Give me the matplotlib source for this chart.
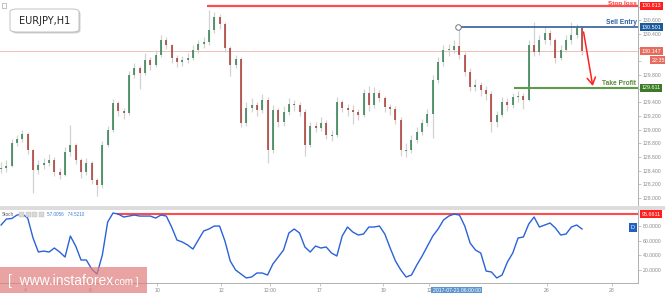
import matplotlib.pyplot as plt
from matplotlib.patches import Rectangle, FancyBboxPatch

W, H = 665, 293

first_open = 128.42
closes = [128.44, 128.47, 128.80, 128.86, 128.94, 128.70, 128.41, 128.48, 128.51, 128.56,
          128.38, 128.34, 128.67, 128.78, 128.56, 128.38, 128.51, 128.26, 128.19, 128.78,
          129.00, 129.39, 129.27, 129.25, 129.80, 129.90, 129.83, 130.02, 129.95, 130.09,
          130.31, 130.24, 130.05, 129.99, 130.02, 130.05, 130.17, 130.26, 130.28, 130.46,
          130.65, 130.55, 130.20, 129.95, 130.04, 129.10, 129.32, 129.36, 129.29, 129.44,
          128.70, 129.29, 129.11, 129.26, 129.38, 129.36, 129.26, 128.78, 129.05, 129.03,
          129.10, 128.92, 128.92, 129.41, 129.32, 129.29, 129.26, 129.22, 129.54, 129.36,
          129.54, 129.46, 129.33, 129.30, 129.14, 128.70, 128.70, 128.85, 128.97, 129.10,
          129.23, 129.73, 129.99, 130.17, 130.17, 130.23, 130.09, 129.85, 129.63, 129.65,
          129.58, 129.52, 129.11, 129.22, 129.41, 129.36, 129.48, 129.49, 129.44, 130.24,
          130.14, 130.31, 130.42, 130.31, 130.05, 130.17, 130.31, 130.39, 130.49, 130.15]
highs = [128.52, 128.55, 128.86, 128.92, 129.00, 128.96, 128.72, 128.55, 128.58, 128.64,
         128.60, 128.44, 128.74, 129.07, 128.80, 128.58, 128.58, 128.54, 128.30, 128.84,
         129.06, 129.45, 129.42, 129.32, 129.86, 129.98, 129.94, 130.13, 130.06, 130.16,
         130.38, 130.36, 130.26, 130.10, 130.08, 130.12, 130.24, 130.32, 130.36, 130.75,
         130.72, 130.70, 130.58, 130.22, 130.10, 130.06, 129.40, 129.46, 129.40, 129.52,
         129.48, 129.36, 129.32, 129.34, 129.46, 129.44, 129.40, 129.30, 129.12, 129.12,
         129.18, 129.14, 129.00, 129.48, 129.44, 129.38, 129.36, 129.30, 129.60, 129.64,
         129.62, 129.58, 129.50, 129.38, 129.34, 129.18, 128.80, 128.92, 129.04, 129.16,
         129.30, 129.80, 130.06, 130.24, 130.26, 130.32, 130.50, 130.14, 129.90, 129.74,
         129.70, 129.64, 129.56, 129.28, 129.48, 129.46, 129.54, 129.56, 129.54, 130.32,
         130.58, 130.38, 130.50, 130.46, 130.34, 130.24, 130.38, 130.58, 130.55, 130.52]
lows = [128.36, 128.38, 128.45, 128.76, 128.82, 128.64, 128.07, 128.35, 128.42, 128.47,
        128.32, 128.28, 128.32, 128.62, 128.50, 128.30, 128.34, 128.20, 128.03, 128.15,
        128.74, 128.96, 129.20, 129.16, 129.22, 129.76, 129.60, 129.80, 129.88, 129.92,
        130.06, 130.18, 129.98, 129.92, 129.94, 129.98, 130.02, 130.12, 130.20, 130.24,
        130.42, 130.48, 130.14, 129.78, 129.90, 129.04, 129.06, 129.26, 129.20, 129.24,
        128.51, 128.66, 129.04, 129.06, 129.22, 129.28, 129.20, 128.62, 128.74, 128.96,
        128.98, 128.86, 128.84, 128.90, 129.26, 129.20, 129.08, 129.14, 129.18, 129.28,
        129.32, 129.40, 129.26, 129.22, 129.08, 128.62, 128.60, 128.66, 128.80, 128.92,
        129.06, 128.88, 129.68, 129.94, 130.08, 130.12, 130.04, 129.78, 129.56, 129.56,
        129.50, 129.44, 128.96, 129.04, 129.18, 129.28, 129.32, 129.40, 129.30, 129.42,
        130.08, 130.10, 130.26, 130.24, 129.98, 130.02, 130.14, 130.26, 130.34, 130.10]

stoch = [81.1, 89.2, 89.9, 94.6, 95.9, 90.5, 63.5, 44.6, 45.9, 44.6,
         50.0, 44.6, 37.8, 66.2, 52.7, 33.8, 33.8, 21.6, 14.9, 40.5,
         85.1, 97.3, 95.9, 91.9, 93.2, 94.6, 93.2, 93.2, 93.2, 90.5,
         94.6, 93.2, 78.4, 60.8, 58.1, 54.1, 48.6, 60.8, 73.0, 75.7,
         79.7, 79.7, 59.5, 32.4, 20.3, 14.9, 9.5, 10.8, 16.2, 16.2,
         13.5, 28.4, 37.8, 47.3, 70.3, 75.7, 70.3, 51.4, 44.6, 52.7,
         50.0, 51.4, 43.2, 39.2, 66.2, 78.4, 71.6, 67.6, 68.9, 78.4,
         78.4, 79.7, 68.9, 50.0, 32.4, 20.3, 10.8, 13.5, 27.0, 39.2,
         52.7, 66.2, 75.7, 87.8, 93.2, 95.9, 94.6, 79.7, 56.8, 47.3,
         43.2, 18.9, 17.6, 9.5, 13.5, 31.1, 43.2, 63.5, 64.9, 82.4,
         91.9, 78.4, 81.1, 83.8, 77.0, 67.6, 68.9, 78.4, 81.1, 75.7]

day_ticks = [4.5, 16.7, 29.3, 41.3, 50.5, 59.8, 71.7, 80.3, 102.4, 114.6]
day_labels = ['4', '6', '10', '12', '12:00', '17', '19', '12', '26', '28']
# labels hidden behind the level boxes in the original are left blank
price_ticks = [128.0, 128.2, 128.4, 128.6, 128.8, 129.0, 129.2, 129.4,
               129.6, 129.8, 130.0, 130.2, 130.4, 130.6, 130.8]
price_labels = ['128.000', '128.200', '128.400', '128.600', '128.800', '129.000',
                '129.200', '129.400', '', '129.800', '', '', '130.400', '130.600', '']
stoch_ticks = [20, 40, 60, 80]

stop_loss = 130.813
sell_entry = 130.501
take_profit = 129.611
last_price = 130.147
stoch_level = 95.6611


def main():
    fig = plt.figure(figsize=(W / 100, H / 100), dpi=100)
    font = 'Liberation Sans'
    xmin, xmax = -0.2, 119.5

    # price panel
    ax = fig.add_axes([0, 1 - 206 / H, 638 / W, 206 / H])
    ax.set_xlim(xmin, xmax)
    ax.set_ylim(127.883, 130.899)
    for s in ['top', 'left', 'bottom']:
        ax.spines[s].set_visible(False)
    ax.spines['right'].set_color('#b0b0b0')
    ax.spines['right'].set_linewidth(0.7)
    ax.set_xticks([])
    ax.yaxis.tick_right()
    ax.set_yticks(price_ticks)
    ax.set_yticklabels(price_labels, fontsize=3.7, color='#8a8a8a', family=font)
    ax.tick_params(axis='y', length=2, width=0.5, color='#b0b0b0', pad=1.5)

    ax.axhline(last_price, color='#f0b4ac', lw=0.6, zorder=1)

    opens = [first_open] + closes[:-1]
    for i in range(len(closes)):
        o, c = opens[i], closes[i]
        ax.vlines(i, lows[i], highs[i], color='#d2d2d2', lw=0.9, zorder=2)
        col = '#2e7b4c' if c >= o else '#a8352b'
        top, bot = max(o, c), min(o, c)
        if top - bot < 0.01:
            top += 0.005
            bot -= 0.005
        ax.vlines(i, bot, top, color=col, lw=1.1, zorder=3)

    ax.hlines(stop_loss, 38.6, xmax, color='#ff4b4b', lw=1.6, zorder=4)
    ax.hlines(sell_entry, 85.7, xmax, color='#1f4f8f', lw=1.1, zorder=4)
    ax.plot([85.7], [sell_entry], 'o', ms=4, mfc='white', mec='#777777', mew=0.7, zorder=5)
    ax.hlines(take_profit, 96.2, xmax, color='#5f9a4a', lw=1.5, zorder=4)
    ax.annotate('', xy=(111.1, 129.60), xytext=(109.2, 130.47),
                arrowprops=dict(arrowstyle='->,head_length=0.5,head_width=0.3',
                                color='#ff2020', lw=1.1), zorder=6)

    ax.text(119.2, stop_loss + 0.004, 'Stop loss', color='#ff3a3a', fontsize=4.6,
            fontweight='bold', family=font, ha='right', va='bottom')
    ax.text(119.2, sell_entry + 0.02, 'Sell Entry', color='#2a5ea8', fontsize=4.8,
            fontweight='bold', family=font, ha='right', va='bottom')
    ax.text(119.2, take_profit + 0.02, 'Take Profit', color='#5d8a3c', fontsize=4.8,
            fontweight='bold', family=font, ha='right', va='bottom')

    tr = ax.get_yaxis_transform()
    boxes = [(stop_loss, '130.813', '#ff1e1e'), (sell_entry, '130.501', '#1c5a9c'),
             (last_price, '130.147', '#e46b5e'), (take_profit, '129.611', '#3b7a26')]
    for y, txt, col in boxes:
        ax.text(1.0205, y, txt, transform=tr, fontsize=3.9, color='white', family=font,
                ha='center', va='center', clip_on=False, zorder=10,
                bbox=dict(boxstyle='square,pad=0.3', fc=col, ec='none'))
    ax.text(1.0325, last_price - 0.13, '22:35', transform=tr, fontsize=3.9, color='white',
            family=font, ha='center', va='center', clip_on=False, zorder=10,
            bbox=dict(boxstyle='square,pad=0.3', fc='#e46b5e', ec='none'))

    # separator band
    fig.patches.append(Rectangle((0, 1 - 210 / H), 1, 4 / H, transform=fig.transFigure,
                                 fc='#dcdcdc', ec='none'))

    # stochastic panel
    ax2 = fig.add_axes([0, 1 - 283 / H, 638 / W, 73 / H])
    ax2.set_xlim(xmin, xmax)
    ax2.set_ylim(2.7, 101.4)
    for s in ['top', 'left']:
        ax2.spines[s].set_visible(False)
    for s in ['right', 'bottom']:
        ax2.spines[s].set_color('#b0b0b0')
        ax2.spines[s].set_linewidth(0.7)
    ax2.yaxis.tick_right()
    ax2.set_yticks(stoch_ticks)
    ax2.set_yticklabels(['%.4f' % t for t in stoch_ticks], fontsize=3.7,
                        color='#8a8a8a', family=font)
    ax2.set_xticks(day_ticks)
    ax2.set_xticklabels(day_labels, fontsize=3.7, color='#8a8a8a', family=font)
    ax2.tick_params(length=2, width=0.5, color='#b0b0b0', pad=1.5)

    ax2.hlines(stoch_level, 21.8, xmax, color='#ff4b4b', lw=1.5, zorder=2)
    ax2.plot(range(len(stoch)), stoch, color='#2a62d8', lw=1.0, zorder=3)

    tr2 = ax2.get_yaxis_transform()
    ax2.text(1.0205, stoch_level, '95.6611', transform=tr2, fontsize=3.9, color='white',
             family=font, ha='center', va='center', clip_on=False, zorder=10,
             bbox=dict(boxstyle='square,pad=0.3', fc='#ff1e1e', ec='none'))
    ax2.text(0.9915, 78, 'D', transform=tr2, fontsize=4, color='white', family=font,
             ha='center', va='center', zorder=10,
             bbox=dict(boxstyle='square,pad=0.35', fc='#2060c0', ec='none'))
    ax2.text(85.5, -0.07, '2017-07-21 06:00:00', transform=ax2.get_xaxis_transform(),
             fontsize=3.7, color='white', family=font, ha='center', va='top',
             clip_on=False, zorder=10,
             bbox=dict(boxstyle='square,pad=0.3', fc='#5b95cf', ec='none'))

    # stoch header
    fig.text(2 / W, 1 - 214 / H, 'Stoch', fontsize=3.3, color='#555555', family=font,
             va='center')
    for k in range(4):
        fig.patches.append(Rectangle(((19 + 6.5 * k) / W, 1 - 217 / H), 5 / W, 5 / H,
                                     transform=fig.transFigure, fc='#d8d8d8', ec='#c0c0c0',
                                     lw=0.3))
    fig.text(47 / W, 1 - 214 / H, '57.0056   74.5210', fontsize=3.3, color='#3a7bd5',
             family=font, va='center')

    # title box
    fig.patches.append(FancyBboxPatch((11.5 / W, 1 - 33.5 / H), 69 / W, 23 / H,
                                      boxstyle='round,pad=0,rounding_size=0.01',
                                      transform=fig.transFigure, fc='#d0d0d0', ec='none'))
    fig.patches.append(FancyBboxPatch((10 / W, 1 - 32 / H), 69 / W, 23 / H,
                                      boxstyle='round,pad=0,rounding_size=0.01',
                                      transform=fig.transFigure, fc='white', ec='#b8b8b8',
                                      lw=0.6))
    fig.text(44.5 / W, 1 - 20.5 / H, 'EURJPY,H1', fontsize=7, color='#222222',
             family='DejaVu Sans', ha='center', va='center')
    fig.patches.append(Rectangle((2 / W, 1 - 8 / H), 4 / W, 5 / H, transform=fig.transFigure,
                                 fc='white', ec='#aaaaaa', lw=0.5))

    # watermark
    fig.patches.append(Rectangle((0, 0), 147 / W, 26 / H, transform=fig.transFigure,
                                 fc='#e07c7c', ec='none', alpha=0.7, zorder=20))
    fig.text(8 / W, 12 / H, '[  www.instaforex', fontsize=10, color='white', family=font,
             va='center', zorder=21)
    fig.text(112 / W, 11 / H, '.com ]', fontsize=7, color='white', family=font,
             va='center', zorder=21)

    fig.savefig('out.png', dpi=100)


if __name__ == '__main__':
    main()
